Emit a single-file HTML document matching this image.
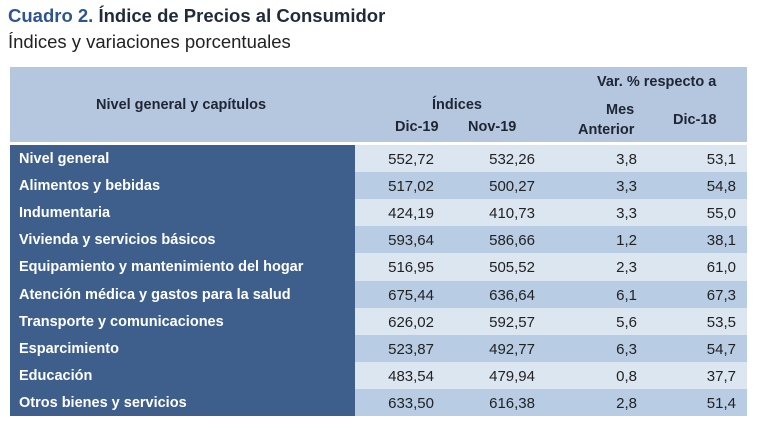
<!DOCTYPE html>
<html><head><meta charset="utf-8"><style>
body{margin:0;width:768px;height:428px;background:#fff;font-family:"Liberation Sans",sans-serif;position:relative;overflow:hidden}
.t{position:absolute;white-space:nowrap}
.hd{position:absolute;left:10px;top:67px;width:737px;height:75px;background:#b4c7df}
.row{position:absolute;left:10px;width:737px}
.lab{position:absolute;left:0;top:0;width:345px;height:100%;background:#3e5f8c;color:#fff;font-weight:bold;font-size:14.5px;line-height:29px;padding-left:9px;box-sizing:border-box}
.v{position:absolute;top:0;line-height:29px;font-size:15px;color:#222;text-align:right}
.h{font-weight:bold;font-size:14.5px;color:#1f2533}
</style></head><body>
<div class="t" style="left:8px;top:5px;font-size:18.5px;font-weight:bold;color:#1f2a3a"><span style="color:#2e5593">Cuadro 2.</span> Índice de Precios al Consumidor</div>
<div class="t" style="left:8px;top:31px;font-size:18.5px;color:#222">Índices y variaciones porcentuales</div>
<div class="hd"></div>
<div class="t h" style="left:96px;top:97px">Nivel general y capítulos</div>
<div class="t h" style="left:432px;top:97px">Índices</div>
<div class="t h" style="left:395px;top:119px">Dic-19</div>
<div class="t h" style="left:468px;top:119px">Nov-19</div>
<div class="t h" style="left:597px;top:74px">Var. % respecto a</div>
<div class="t h" style="left:606px;top:102px">Mes</div>
<div class="t h" style="left:578px;top:122px">Anterior</div>
<div class="t h" style="left:673px;top:112px">Dic-18</div>
<div id="rows"></div>
<script>
var d=[["Nivel general","552,72","532,26","3,8","53,1"],["Alimentos y bebidas","517,02","500,27","3,3","54,8"],["Indumentaria","424,19","410,73","3,3","55,0"],["Vivienda y servicios básicos","593,64","586,66","1,2","38,1"],["Equipamiento y mantenimiento del hogar","516,95","505,52","2,3","61,0"],["Atención médica y gastos para la salud","675,44","636,64","6,1","67,3"],["Transporte y comunicaciones","626,02","592,57","5,6","53,5"],["Esparcimiento","523,87","492,77","6,3","54,7"],["Educación","483,54","479,94","0,8","37,7"],["Otros bienes y servicios","633,50","616,38","2,8","51,4"]];
var r=[434,535,637,736],h="";
d.forEach(function(x,i){var top=Math.round(145+i*27.1),nx=Math.round(145+(i+1)*27.1);h+='<div class="row" style="top:'+top+'px;height:'+(nx-top)+'px;background:'+(i%2?'#b8cce4':'#dce6f1')+'"><div class="lab">'+x[0]+'</div>';
for(var j=0;j<4;j++)h+='<div class="v" style="right:'+(737-(r[j]-10))+'px">'+x[j+1]+'</div>';h+='</div>';});
document.getElementById("rows").innerHTML=h;
</script>
</body></html>
